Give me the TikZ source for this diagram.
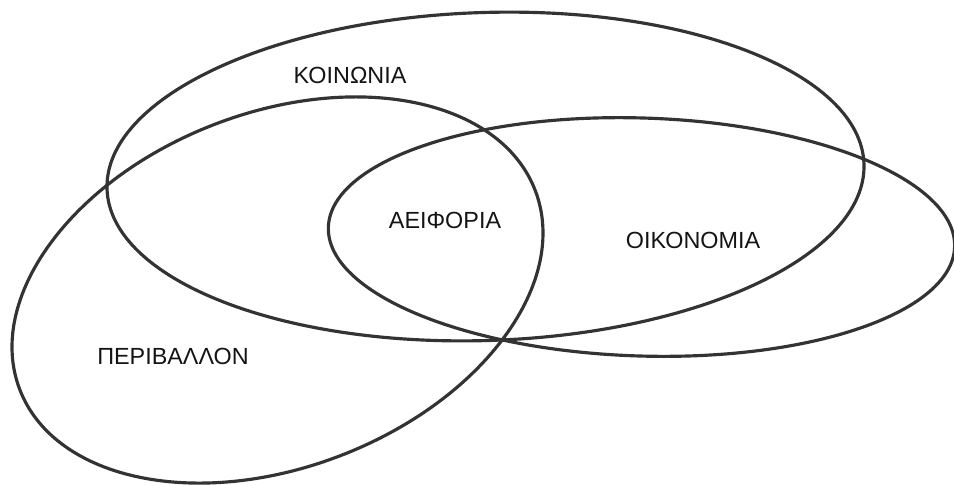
\documentclass[tikz,border=0pt]{standalone}
\usepackage{fontspec}
\setmainfont{Liberation Sans}
\usepackage{xcolor}
\definecolor{cLine}{RGB}{51,51,51}
\definecolor{cText}{RGB}{20,20,20}
\usepackage{tikz}
\usetikzlibrary{positioning, calc}

\begin{document}
\begin{tikzpicture}[x=0.02cm, y=-0.02cm, line width=1.8pt,
    blob/.style={cLine},
    lbl/.style={cText, font=\fontsize{13.3}{15}\selectfont, inner sep=0pt}]
    % ---------- canvas ----------
    \useasboundingbox (0,0) rectangle (954,484);

    % ---------- society ----------
    \draw[blob, rotate around={1.9:(485.5,176.5)}]
      (485.5,176.5) ellipse [x radius=378.7, y radius=164];

    % ---------- economy ----------
    \draw[blob, rotate around={-1.8:(641.5,237)}]
      (641.5,237) ellipse [x radius=313.3, y radius=119];

    % ---------- environment ----------
    \draw[blob, rotate around={21.2:(277.5,290)}]
      (277.5,290) ellipse [x radius=276.3, y radius=177.2];

    % ---------- labels ----------
    \node[lbl] (koinonia) at (350,75) {ΚΟΙΝΩΝΙΑ};
    \node[lbl] (aeiforia) at (445,220) {ΑΕΙΦΟΡΙΑ};
    \node[lbl] (oikonomia) at (693,240) {ΟΙΚΟΝΟΜΙΑ};
    \node[lbl] (perivallon) at (173,356) {ΠΕΡΙΒΑΛΛΟΝ};

\end{tikzpicture}
\end{document}
